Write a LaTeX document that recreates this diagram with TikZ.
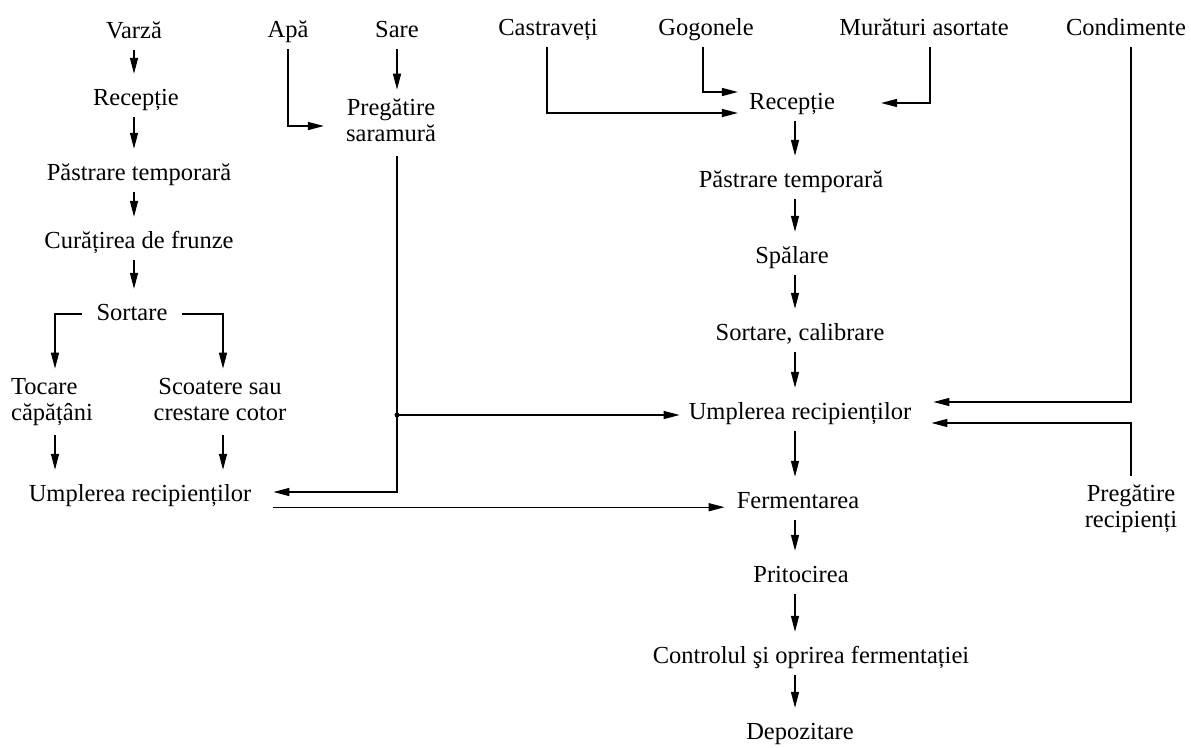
\documentclass[tikz,border=0pt]{standalone}
\usepackage{fontspec}
\setmainfont{Liberation Serif}
\usetikzlibrary{arrows.meta}
\begin{document}
\begin{tikzpicture}[x=1pt,y=-1pt,
  lbl/.style={font=\fontsize{24.5}{26}\selectfont, anchor=base, text height=19pt, text depth=0pt, inner ysep=12pt, inner xsep=10pt},
  two/.style={font=\fontsize{24.5}{26}\selectfont, anchor=base, inner ysep=7pt, inner xsep=10pt},
  arr/.style={line width=1.4pt, -{Triangle[length=16pt,width=8pt]}},
  ln/.style={line width=1.4pt},
]
\useasboundingbox (0,0) rectangle (1191,747);

% cabbage line (left)
\node[lbl] (varza) at (134,38) {Varză};
\node[lbl] (rec1) at (136,105) {Recepție};
\node[lbl] (pas1) at (139,180) {Păstrare temporară};
\node[lbl] (cur) at (139,248) {Curățirea de frunze};
\node[lbl, inner xsep=14pt] (sort1) at (132,320) {Sortare};
\node[two] (toc) at (52,420) {\begin{tabular}[b]{@{}l@{}}Tocare\\căpățâni\end{tabular}};
\node[two] (scoa) at (220,420) {\begin{tabular}[b]{@{}c@{}}Scoatere sau\\crestare cotor\end{tabular}};
\node[lbl, inner xsep=22pt] (uml1) at (140,501) {Umplerea recipienților};

% brine
\node[lbl] (apa) at (288,37) {Apă};
\node[lbl] (sare) at (397,37) {Sare};
\node[two, inner xsep=22pt] (preg) at (391,141) {\begin{tabular}[b]{@{}c@{}}Pregătire\\saramură\end{tabular}};

% vegetables line (right)
\node[lbl] (cast) at (548,35) {Castraveți};
\node[lbl] (gog) at (706,35) {Gogonele};
\node[lbl] (mur) at (924,35) {Murături asortate};
\node[lbl] (cond) at (1126,35) {Condimente};

\node[lbl, inner xsep=11pt] (rec2) at (792,109) {Recepție};
\node[lbl] (pas2) at (791,187) {Păstrare temporară};
\node[lbl] (spa) at (792,263) {Spălare};
\node[lbl] (sc) at (800,340) {Sortare, calibrare};
\node[lbl, inner xsep=9pt] (uml2) at (800,419) {Umplerea recipienților};
\node[lbl, inner xsep=12pt] (ferm) at (798,508) {Fermentarea};
\node[lbl] (prit) at (801,582) {Pritocirea};
\node[lbl] (ctrl) at (811,663) {Controlul şi oprirea fermentației};
\node[lbl] (depo) at (800,739) {Depozitare};
\node[two] (pregr) at (1131,527) {\begin{tabular}[b]{@{}c@{}}Pregătire\\recipienți\end{tabular}};

% left column connectors
\coordinate (cL) at (134,0);
\draw[arr] (varza.south -| cL) -- (rec1.north -| cL);
\draw[arr] (rec1.south -| cL) -- (pas1.north -| cL);
\draw[arr] (pas1.south -| cL) -- (cur.north -| cL);
\draw[arr] (cur.south -| cL) -- (sort1.north -| cL);
\coordinate (tl) at (55,314);
\coordinate (tr) at (223,314);
\draw[arr] (sort1.west |- tl) -- (tl) -- (tl |- toc.north);
\draw[arr] (sort1.east |- tr) -- (tr) -- (tr |- scoa.north);
\draw[arr] (toc.south -| tl) -- (uml1.north -| tl);
\draw[arr] (scoa.south -| tr) -- (uml1.north -| tr);

% brine preparation and distribution
\coordinate (ab) at (288,126);
\draw[arr] (apa.south) -- (ab) -- (ab -| preg.west);
\draw[arr] (sare.south) -- (sare.south |- preg.north);
\coordinate (jn) at (397,415);
\coordinate (sb) at (397,492);
\draw[ln] (sare.south |- preg.south) -- (jn);
\draw[arr] (jn) -- (sb) -- (sb -| uml1.east);
\draw[arr] (jn) -- (jn -| uml2.west);
\fill (jn) circle[radius=2.5pt];
\path (uml1.south east) ++(0,-6) coordinate (uo);
\draw[arr] (uo) -- (uo -| ferm.west);

% raw materials into reception
\coordinate (cb) at (547,113);
\draw[arr] (cb |- cast.south) -- (cb) -- (cb -| rec2.west);
\coordinate (gb) at (703,92);
\draw[arr] (gb |- gog.south) -- (gb) -- (gb -| rec2.west);
\coordinate (mb) at (930,103);
\draw[arr, shorten >=35pt] (mb |- mur.south) -- (mb) -- (mb -| rec2.east);

% right column connectors
\coordinate (cR) at (795,0);
\draw[arr] (rec2.south -| cR) -- (pas2.north -| cR);
\draw[arr] (pas2.south -| cR) -- (spa.north -| cR);
\draw[arr] (spa.south -| cR) -- (sc.north -| cR);
\draw[arr] (sc.south -| cR) -- (uml2.north -| cR);
\draw[arr] (uml2.south -| cR) -- (ferm.north -| cR);
\draw[arr] (ferm.south -| cR) -- (prit.north -| cR);
\draw[arr] (prit.south -| cR) -- (ctrl.north -| cR);
\draw[arr] (ctrl.south -| cR) -- (depo.north -| cR);

% spices and containers
\coordinate (kb) at (1131,402);
\draw[arr, shorten >=13pt] (kb |- cond.south) -- (kb) -- (kb -| uml2.east);
\coordinate (pb) at (1131,423);
\draw[arr, shorten >=11pt] (pb |- pregr.north) -- (pb) -- (pb -| uml2.east);
\end{tikzpicture}
\end{document}
